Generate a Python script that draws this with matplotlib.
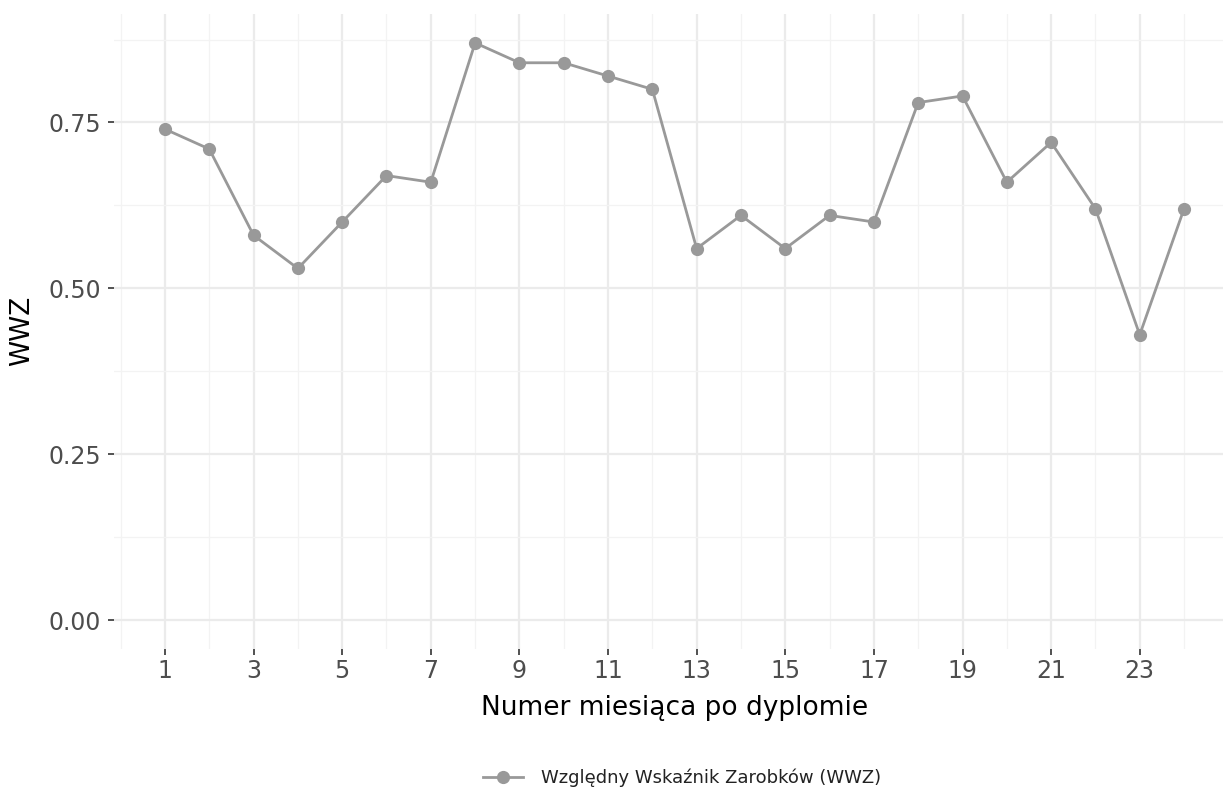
import matplotlib
matplotlib.use("Agg")
import matplotlib.pyplot as plt
from matplotlib.lines import Line2D

plt.rcParams['font.family'] = ['DejaVu Sans']

# data
miesiac = list(range(1, 25))
wwz = [0.74, 0.71, 0.58, 0.53, 0.60, 0.67, 0.66, 0.87, 0.84, 0.84, 0.82, 0.80,
       0.56, 0.61, 0.56, 0.61, 0.60, 0.78, 0.79, 0.66, 0.72, 0.62, 0.43, 0.62]
x_ticks = list(range(1, 25, 2))
y_ticks = [0.0, 0.25, 0.5, 0.75]
y_minor = [0.125, 0.375, 0.625, 0.875]
x_minor = list(range(0, 26, 2))

W, H = 1223, 789
fig = plt.figure(figsize=(W / 100, H / 100), dpi=100)
# panel is wider than the canvas on the right (cropped like the original)
ax = fig.add_axes([114 / W, 1 - 649 / H, (1235 - 114) / W, (649 - 14) / H])

grey = '#999999'
ax.plot(miesiac, wwz, color=grey, linewidth=2, marker='o', markersize=9.5,
        markeredgewidth=0, zorder=3, clip_on=False)

ax.set_xlim(-0.15, 25.15)
ax.set_ylim(-0.0435, 0.9135)

ax.set_xticks(x_ticks)
ax.set_xticks(x_minor, minor=True)
ax.set_yticks(y_ticks)
ax.set_yticks(y_minor, minor=True)
ax.set_yticklabels([f"{v:.2f}" for v in y_ticks])

ax.grid(which='major', color='#EBEBEB', linewidth=1.6)
ax.grid(which='minor', color='#F3F3F3', linewidth=0.9)
ax.set_axisbelow(True)

for s in ax.spines.values():
    s.set_visible(False)

ax.tick_params(axis='both', which='major', length=4.5, width=1.2, color='#333333',
               labelcolor='#4D4D4D', labelsize=17)
ax.tick_params(axis='x', which='major', pad=3)
ax.tick_params(axis='y', which='major', pad=5)
ax.tick_params(which='minor', length=0)

fig.text(675 / W, 1 - 715 / H, 'Numer miesiąca po dyplomie', ha='center',
         va='baseline', fontsize=19, color='black')
fig.text(22 / W, 1 - 331 / H, 'WWZ', ha='center', va='center', rotation=90,
         fontsize=19, color='black')

handle = Line2D([], [], color=grey, linewidth=2, marker='o', markersize=9.5,
                markeredgewidth=0)
fig.legend([handle], ['Względny Wskaźnik Zarobków (WWZ)'], loc='center',
           bbox_to_anchor=(682 / W, 1 - 778 / H), frameon=False, fontsize=13,
           handlelength=2.2, handletextpad=1.0, labelcolor='#222222')

fig.savefig('out.png', dpi=100)
